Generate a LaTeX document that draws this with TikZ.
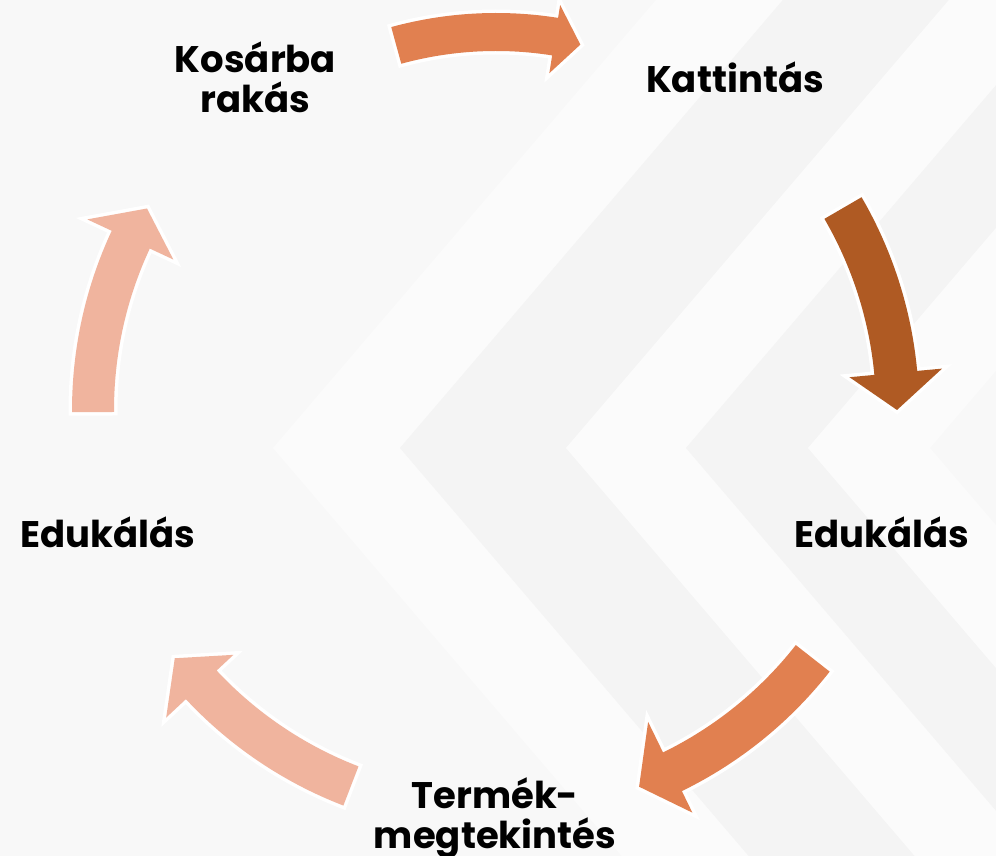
\documentclass[tikz,border=0pt]{standalone}
\usepackage{fontspec}
\setmainfont{Poppins}
\definecolor{bgbase}{HTML}{F8F8F8}
\definecolor{bgdark}{HTML}{F4F4F4}
\definecolor{bglight}{HTML}{FBFBFB}
\definecolor{aorange}{HTML}{E18050}
\definecolor{abrown}{HTML}{AF5A23}
\definecolor{asalmon}{HTML}{F0B49E}
% band: #1 colour, #2 left x at vertex, #3 right x at vertex
\newcommand\chevband[3]{%
  \fill[#1] (#2,408) -- ({#2+500/1.17},908) -- ({#3+500/1.17},908) -- (#3,408)
    -- ({#3+500/1.17},-92) -- ({#2+500/1.17},-92) -- cycle;}
% arrow: #1 colour, #2 tail angle, #3 head base angle, #4 tip angle,
% #5 inner r, #6 outer r, #7 head inner r, #8 head outer r, #9 tip r
\newcommand\cycarrow[9]{%
  \fill[#1, preaction={draw=white, line width=7pt, line join=miter}, shift={(496,446)}]
    (#2:#6) arc[start angle=#2, end angle=#3, radius=#6] -- (#3:#8) -- (#4:#9)
    -- (#3:#7) -- (#3:#5) arc[start angle=#3, end angle=#2, radius=#5] -- cycle;}
\begin{document}
\begin{tikzpicture}[x=1pt,y=1pt,
  lab/.style={font=\fontsize{37}{40}\selectfont\bfseries, align=center, text=black, inner sep=0pt}]
\useasboundingbox (0,0) rectangle (996,856);
\fill[bgbase] (0,0) rectangle (996,856);
\begin{scope}
  \clip (0,0) rectangle (996,856);
  \chevband{bglight}{273}{400}
  \chevband{bgdark}{400}{566}
  \chevband{bglight}{566}{686}
  \chevband{bgdark}{686}{808}
  \chevband{bglight}{808}{930}
\end{scope}
% arrows
\cycarrow{aorange}{105.3}{81}{77}{359}{397}{341}{410}{375}
\cycarrow{abrown}{30.2}{5.3}{0}{380}{423}{355}{448}{401}
\cycarrow{aorange}{-38.1}{-64}{-69.2}{381}{424}{347}{448}{403}
\cycarrow{asalmon}{248.9}{223}{217.7}{382}{424}{359}{451}{406}
\cycarrow{asalmon}{180.3}{155}{150}{382}{424}{356}{451}{403}
% labels
\node[lab, anchor=base] (kosar) at (255.5,743) {Kosárba\\rakás};
\node[lab, anchor=base] (katt) at (735,763) {Kattintás};
\node[lab, anchor=base] (eduR) at (882,308) {Edukálás};
\node[lab, anchor=base] (eduL) at (108,308) {Edukálás};
\node[lab, anchor=base] (termek) at (495,7) {Termék-\\megtekintés};
\end{tikzpicture}
\end{document}
